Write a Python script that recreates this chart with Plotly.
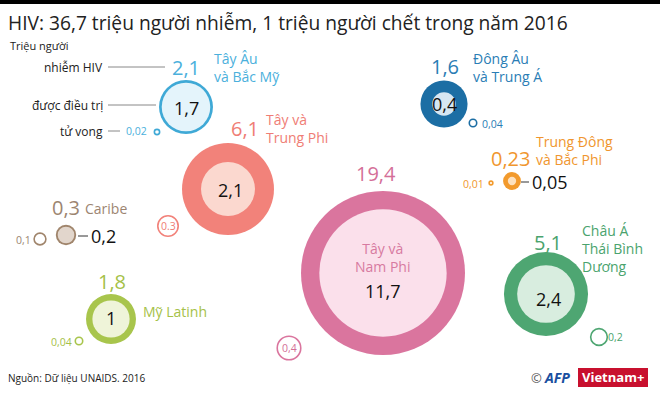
import plotly.graph_objects as go

# ---------------- data (million people, 2016, UNAIDS) ----------------
regions = ["Tây Âu và Bắc Mỹ", "Tây và Trung Phi", "Tây và Nam Phi", "Caribe",
           "Mỹ Latinh", "Đông Âu và Trung Á", "Trung Đông và Bắc Phi",
           "Châu Á Thái Bình Dương"]
region_labels = ["Tây Âu<br>và Bắc Mỹ", "Tây và<br>Trung Phi", "Tây và<br>Nam Phi", "Caribe",
                 "Mỹ Latinh", "Đông Âu<br>và Trung Á", "Trung Đông<br>và Bắc Phi",
                 "Châu Á<br>Thái Bình<br>Dương"]
infected = [2.1, 6.1, 19.4, 0.3, 1.8, 1.6, 0.23, 5.1]
treated = [1.7, 2.1, 11.7, 0.2, 1.0, 0.4, 0.05, 2.4]
deaths = [0.02, 0.3, 0.4, 0.1, 0.04, 0.04, 0.01, 0.2]


def fmt(v):
    s = ("%g" % v)
    return s.replace(".", ",")


infected_txt = [fmt(v) for v in infected]
treated_txt = [fmt(v) for v in treated]
deaths_txt = [fmt(v) for v in deaths]
deaths_txt[1] = "0.3"  # printed with a dot in the source graphic

# ---------------- styling / layout ----------------
W, H = 660, 393
ring = ["#3fa9d6", "#f2827a", "#da759e", "#a0856c", "#a8c54c", "#1c6ea4", "#f29a2d", "#4ea672"]
inner = ["#e4f4fb", "#fbd8cf", "#fbe0eb", "#e2d6cc", "#eff4d9", "#d6e6f2", "#fde1bf", "#d8eddf"]
labc = ["#4bb0dc", "#ef7d75", "#d46f98", "#9c8571", "#a5c148", "#2a7db5", "#f0962e", "#4aa36d"]

# bubble centres (pixels)
cx = [186, 228, 383, 66, 111, 444, 512, 546]
cy = [107, 189, 273, 235, 319, 104, 181, 294]
# small death-circle centres
dx = [157, 168, 289, 40, 79, 473, 491, 599]
dy = [132, 226, 348, 239, 341, 123, 183, 337]

SIZEREF = 2 * 19.4 / (164 ** 2)
FONT = "Open Sans"

fig = go.Figure()
fig.add_trace(go.Scatter(x=cx, y=cy, mode="markers", hoverinfo="skip",
                         marker=dict(size=infected, sizemode="area", sizeref=SIZEREF, opacity=1,
                                     color=ring, line=dict(width=0))))
fig.add_trace(go.Scatter(x=cx, y=cy, mode="markers", hoverinfo="skip",
                         marker=dict(size=treated, sizemode="area", sizeref=SIZEREF, opacity=1,
                                     color=inner, line=dict(width=0))))
fig.add_trace(go.Scatter(x=dx, y=dy, mode="markers", hoverinfo="skip",
                         marker=dict(size=deaths, sizemode="area", sizeref=SIZEREF, opacity=1,
                                     color="white", line=dict(width=1.6, color=ring))))

ann = []


def A(x, y, text, size, color, xa="center", ya="middle", font=FONT, align=None):
    d = dict(x=x, y=y, xref="x", yref="y", text=text, showarrow=False,
             xanchor=xa, yanchor=ya, font=dict(size=size, color=color, family=font))
    if align:
        d["align"] = align
    ann.append(d)


# infected value labels (above bubble) and region names
inf_pos = [(186, 67), (245, 128), (376, 173), (66, 207), (112, 281), (445, 66), (510, 158), (548, 242)]
name_pos = [(212, 67, "left"), (264, 128, "left"), None, (83, 208, "left"), (141, 311, "left"),
            (471, 67, "left"), (534, 150, "left"), (580, 248, "left")]
for i in range(len(regions)):
    A(inf_pos[i][0], inf_pos[i][1], infected_txt[i], 20, labc[i])
    if name_pos[i] is not None:
        A(name_pos[i][0], name_pos[i][1], region_labels[i], 14, labc[i], xa="left", align="left")

# inner name for the largest bubble
A(382, 257, region_labels[2], 14, "#d77aa0", align="center")

# treated values
tr_pos = [(186, 108, "center"), (230, 190, "center"), (383, 291, "center"), (89, 236, "left"),
          (111, 318, "center"), (444, 104, "center"), (530, 182, "left"), (548, 299, "center")]
for i in range(len(regions)):
    x, y, xa = tr_pos[i]
    A(x, y, treated_txt[i], 18, "#111111", xa=xa)

# deaths values
de_pos = [(124, 131, "left"), (168, 226, "center"), (289, 348, "center"), (33, 240, "right"),
          (74, 342, "right"), (480, 124, "left"), (486, 184, "right"), (606, 337, "left")]
for i in range(len(regions)):
    x, y, xa = de_pos[i]
    A(x, y, deaths_txt[i], 10.5, labc[i], xa=xa)

# legend explanation
A(105, 67, "nhiễm HIV", 12, "#222222", xa="right")
A(105, 105, "được điều trị", 12, "#222222", xa="right")
A(105, 131, "tử vong", 12, "#222222", xa="right")

# titles
A(6, 22, "HIV: 36,7 triệu người nhiễm, 1 triệu người chết trong năm 2016", 19.2, "#222222", xa="left")
A(8, 45, "Triệu người", 11, "#222222", xa="left")
A(6, 378, "Nguồn: Dữ liệu UNAIDS. 2016", 10, "#222222", xa="left")

# logo
A(536, 378, "©", 13, "#555555", xa="center")
A(542, 377, "<b><i>AFP</i></b>", 14, "#1a4fa0", xa="left")
A(613, 377, "<b>Vietnam+</b>", 13, "white", xa="center")

shapes = [
    dict(type="rect", xref="x", yref="y", x0=0, x1=W, y0=0, y1=4, fillcolor="black", line=dict(width=0), layer="below"),
    dict(type="rect", xref="x", yref="y", x0=578, x1=648, y0=368, y1=387, fillcolor="#c8102e", line=dict(width=0), layer="below"),
    dict(type="line", xref="x", yref="y", x0=108, x1=165, y0=67, y1=67, line=dict(color="#888888", width=1)),
    dict(type="line", xref="x", yref="y", x0=108, x1=156, y0=105, y1=105, line=dict(color="#888888", width=1)),
    dict(type="line", xref="x", yref="y", x0=108, x1=120, y0=131, y1=131, line=dict(color="#888888", width=1)),
    dict(type="line", xref="x", yref="y", x0=78, x1=88, y0=236, y1=236, line=dict(color="#333333", width=1)),
    dict(type="line", xref="x", yref="y", x0=521, x1=529, y0=182, y1=182, line=dict(color="#333333", width=1)),
]

fig.update_layout(
    width=W, height=H, autosize=False,
    margin=dict(l=0, r=0, t=0, b=0),
    paper_bgcolor="white", plot_bgcolor="white",
    showlegend=False,
    xaxis=dict(range=[0, W], visible=False, fixedrange=True),
    yaxis=dict(range=[H, 0], visible=False, fixedrange=True),
    annotations=ann, shapes=shapes,
)

fig.write_html("out.html", config={"displayModeBar": False},
               post_script="document.body.style.margin='0';document.body.style.overflow='hidden';")
